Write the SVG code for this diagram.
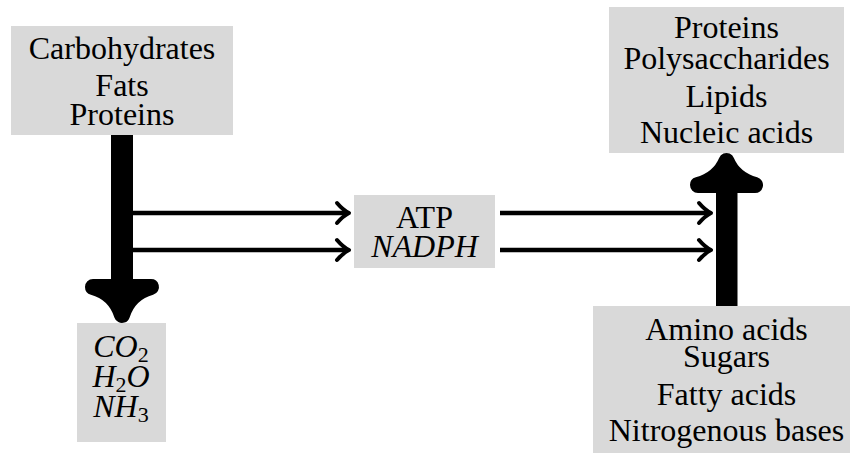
<svg xmlns="http://www.w3.org/2000/svg" width="850" height="455" viewBox="0 0 850 455" font-family="Liberation Serif, DejaVu Serif, Times New Roman, serif">
  <style>
    .box { fill: #d9d9d9; }
    .t { font-size: 32px; fill: #000; text-anchor: middle; }
    .m { font-style: italic; }
    .sub { font-style: normal; font-size: 22px; }
    .line { stroke: #000; stroke-width: 4.5; fill: none; }
    .tip { stroke: #000; stroke-width: 4; fill: none; stroke-linecap: round; stroke-linejoin: round; }
    .big { stroke: #000; stroke-width: 16; fill: #000; stroke-linecap: round; stroke-linejoin: round; }
  </style>

  <g id="fuels">
    <rect class="box" x="11" y="26" width="222" height="109"/>
    <text class="t" x="122" y="59">Carbohydrates</text>
    <text class="t" x="122" y="96">Fats</text>
    <text class="t" x="122" y="125">Proteins</text>
  </g>

  <g id="waste">
    <rect class="box" x="77" y="323" width="89" height="119"/>
    <text class="t m" x="121" y="357">CO<tspan class="sub" dy="5">2</tspan></text>
    <text class="t m" x="121" y="387">H<tspan class="sub" dy="5">2</tspan><tspan dy="-5">O</tspan></text>
    <text class="t m" x="121" y="417">NH<tspan class="sub" dy="5">3</tspan></text>
  </g>

  <g id="energy">
    <rect class="box" x="354" y="195" width="141" height="73"/>
    <text class="t" x="424.5" y="228">ATP</text>
    <text class="t m" x="424.5" y="257">NADPH</text>
  </g>

  <g id="macromolecules">
    <rect class="box" x="609" y="7" width="235" height="146"/>
    <text class="t" x="726.5" y="38">Proteins</text>
    <text class="t" x="726.5" y="69">Polysaccharides</text>
    <text class="t" x="726.5" y="107">Lipids</text>
    <text class="t" x="726.5" y="143">Nucleic acids</text>
  </g>

  <g id="building-blocks">
    <rect class="box" x="593" y="306" width="266" height="147"/>
    <text class="t" x="726.5" y="340">Amino acids</text>
    <text class="t" x="726.5" y="367">Sugars</text>
    <text class="t" x="726.5" y="405">Fatty acids</text>
    <text class="t" x="726.5" y="441">Nitrogenous bases</text>
  </g>

  <g id="connectors">
    <!-- catabolism: thick downward arrow -->
    <rect x="111" y="135" width="22" height="175" fill="#000"/>
    <path class="big" d="M93,287 Q115,293 122,315 Q129,293 151,287 Z"/>
    <!-- anabolism: thick upward arrow -->
    <rect x="716" y="175" width="21.5" height="131" fill="#000"/>
    <path class="big" d="M698,185 Q719,179 726.5,161 Q734,179 755,185 Z"/>
    <!-- energy carriers produced -->
    <line class="line" x1="133" y1="213" x2="348" y2="213"/>
    <path class="tip" d="M337,203 Q343,210 349,213 Q343,216 337,223"/>
    <line class="line" x1="133" y1="250" x2="348" y2="250"/>
    <path class="tip" d="M337,240 Q343,247 349,250 Q343,253 337,260"/>
    <!-- energy carriers consumed -->
    <line class="line" x1="500" y1="213" x2="710" y2="213"/>
    <path class="tip" d="M699,203 Q705,210 711,213 Q705,216 699,223"/>
    <line class="line" x1="500" y1="250" x2="710" y2="250"/>
    <path class="tip" d="M699,240 Q705,247 711,250 Q705,253 699,260"/>
  </g>
</svg>
